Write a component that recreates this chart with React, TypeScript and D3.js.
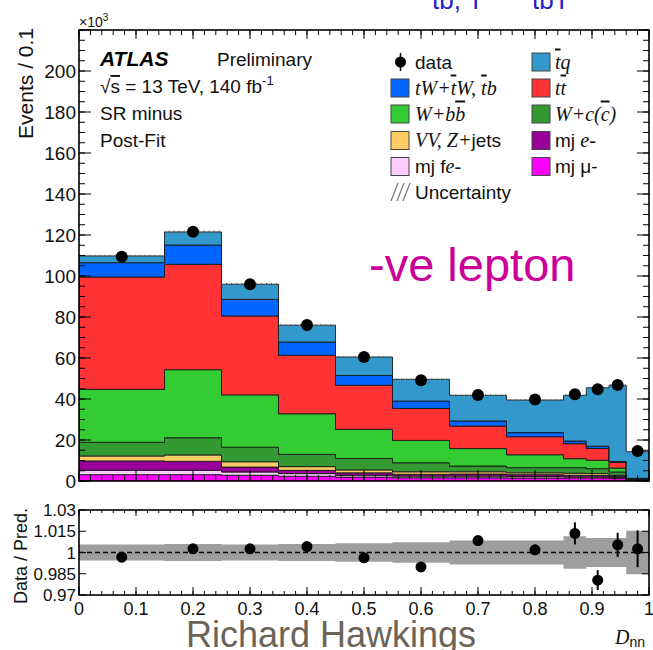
import React from 'react';
import * as d3 from 'd3';

// bin edges of D_nn
const binEdges = [0, 0.15, 0.25, 0.35, 0.45, 0.55, 0.65, 0.75, 0.85, 0.89, 0.93, 0.96, 1.0];

// post-fit yields in units of 10^3, bottom of the stack first
const mjMu = [3.1, 3.1, 2.8, 2.3, 1.9, 1.6, 1.6, 1.5, 1.5, 1.5, 1.2, 0.3];
const mjFe = [2.1, 2.1, 1.6, 1.3, 0.9, 0.8, 0.8, 0.7, 0.5, 0.5, 0.4, 0.1];
const mjE = [4.6, 4.4, 2.4, 1.6, 1.2, 0.9, 1.0, 0.9, 0.8, 0.7, 0.6, 0.3];
const vvZjets = [2.4, 3.1, 2.6, 1.8, 1.4, 1.2, 1.1, 0.9, 1.0, 0.9, 0.6, 0.1];
const wcc = [6.7, 8.4, 7.1, 6.0, 5.6, 4.4, 2.8, 2.5, 2.7, 2.4, 1.6, 0.2];
const wbb = [25.8, 33.2, 25.5, 19.8, 14.2, 10.9, 8.5, 6.3, 4.4, 4.1, 1.9, 0.2];
const ttbar = [54.8, 51.4, 38.5, 28.5, 21.5, 15.6, 11.0, 8.8, 7.3, 5.8, 2.8, 0.1];
const tWtb = [7.0, 9.4, 8.1, 6.5, 4.8, 3.6, 2.5, 2.0, 1.3, 1.1, 0.4, 0.0];
const tqBar = [3.3, 6.4, 7.4, 8.2, 9.0, 10.6, 12.5, 15.9, 22.3, 28.5, 37.2, 13.0];

const dataCounts = [109.4, 121.6, 96.0, 76.1, 60.5, 49.1, 42.0, 39.8, 42.3, 44.7, 46.8, 14.6];

// lower panel
const ratioVals = [0.9967, 1.0026, 1.0026, 1.0042, 0.9963, 0.9898, 1.0084, 1.0019, 1.0135, 0.9805, 1.0054, 1.0026];
const ratioErr = [0.002, 0.002, 0.002, 0.002, 0.002, 0.003, 0.003, 0.003, 0.0078, 0.007, 0.0085, 0.013];
const bandHalf = [0.0057, 0.006, 0.0057, 0.006, 0.0066, 0.0073, 0.0085, 0.0085, 0.0114, 0.0102, 0.0102, 0.0153];

const yTickLabels = [0, 20, 40, 60, 80, 100, 120, 140, 160, 180, 200];
const xTickLabels = [0, 0.1, 0.2, 0.3, 0.4, 0.5, 0.6, 0.7, 0.8, 0.9, 1];
const ratioTickLabels = [0.97, 0.985, 1, 1.015, 1.03];

const layers = [
  { key: 'mjMu', values: mjMu, color: '#ff00ff' },
  { key: 'mjFe', values: mjFe, color: '#ffccff' },
  { key: 'mjE', values: mjE, color: '#990099' },
  { key: 'vv', values: vvZjets, color: '#ffcc66' },
  { key: 'wcc', values: wcc, color: '#339933' },
  { key: 'wbb', values: wbb, color: '#33cc33' },
  { key: 'tt', values: ttbar, color: '#ff3333' },
  { key: 'tw', values: tWtb, color: '#0066ff' },
  { key: 'tq', values: tqBar, color: '#3399cc' },
];

const W = 653;
const H = 650;
const left = 79;
const right = 649;
const top = 30;
const bottom = 481;
const rTop = 510;
const rBottom = 595;

const sans = '"Liberation Sans", Arial, sans-serif';
const serif = '"Liberation Serif", "Times New Roman", serif';

export default function App() {
  const n = binEdges.length - 1;
  const x = d3.scaleLinear().domain([0, 1]).range([left, right]);
  const y = d3.scaleLinear().domain([0, 220]).range([bottom, top]);
  const yr = d3.scaleLinear().domain([0.97, 1.03]).range([rBottom, rTop]);

  const rows = d3.range(n).map((i) => {
    const r: Record<string, number> = {};
    layers.forEach((l) => (r[l.key] = l.values[i]));
    return r;
  });
  const stacked = d3.stack<Record<string, number>>().keys(layers.map((l) => l.key))(rows);
  const totals = rows.map((r) => d3.sum(layers, (l) => r[l.key]));

  const stepArea = (ys: (i: number) => [number, number], sy: d3.ScaleLinear<number, number>) =>
    d3
      .area<number>()
      .x((e) => x(binEdges[e]))
      .y0((e) => sy(ys(Math.min(e, n - 1))[0]))
      .y1((e) => sy(ys(Math.min(e, n - 1))[1]))
      .curve(d3.curveStepAfter)(d3.range(n + 1));

  const centers = d3.range(n).map((i) => (binEdges[i] + binEdges[i + 1]) / 2);

  const xMajor = d3.range(0, 1.0001, 0.1);
  const xMinor = d3.range(0, 1.0001, 0.02);
  const yMajor = d3.range(0, 220.01, 20);
  const yMinor = d3.range(0, 220.01, 5);

  const legendBox = (bx: number, cy: number, color: string) => (
    <rect x={bx} y={cy - 9} width={18} height={18} fill={color} stroke="#444" strokeWidth={1} />
  );
  const rowY = [62, 88, 114, 140.5, 166.5, 192];
  const c1 = 391;
  const c2 = 532;
  const ov = { textDecoration: 'overline' } as React.CSSProperties;

  return (
    <svg width={W} height={H} style={{ position: 'absolute', left: 0, top: 0 }} fontFamily={sans}>
      <defs>
        <clipPath id="mainClip">
          <rect x={left} y={top} width={right - left} height={bottom - top} />
        </clipPath>
        <pattern id="hatch" patternUnits="userSpaceOnUse" width={5} height={5}>
          <path d="M0,5 L5,0" stroke="#666" strokeWidth={1} />
        </pattern>
      </defs>
      <rect width={W} height={H} fill="#fff" />

      {/* blue text cut at the top of the slide */}
      <text x={432} y={8.5} fontSize={26} fill="#2222cc">tb, T</text>
      <text x={532} y={8.5} fontSize={26} fill="#2222cc">tbT</text>

      {/* stacked histogram */}
      <g clipPath="url(#mainClip)">
        {stacked.map((s, li) => (
          <path
            key={layers[li].key}
            d={stepArea((i) => [s[i][0], s[i][1]], y) || ''}
            fill={layers[li].color}
            stroke="#1a1a1a"
            strokeWidth={0.9}
          />
        ))}
        <path
          d={stepArea((i) => [totals[i] * (1 - bandHalf[i]), totals[i] * (1 + bandHalf[i])], y) || ''}
          fill="url(#hatch)"
          stroke="none"
        />
      </g>

      {/* data points */}
      {centers.map((c, i) => (
        <circle key={'d' + i} cx={x(c)} cy={y(dataCounts[i])} r={6} fill="#000" />
      ))}

      {/* main frame and ticks */}
      <g stroke="#000" strokeWidth={1}>
        {xMinor.map((v, i) => (
          <g key={'xm' + i}>
            <line x1={x(v)} x2={x(v)} y1={bottom} y2={bottom - 6} />
            <line x1={x(v)} x2={x(v)} y1={top} y2={top + 5} />
          </g>
        ))}
        {xMajor.map((v, i) => (
          <g key={'xM' + i}>
            <line x1={x(v)} x2={x(v)} y1={bottom} y2={bottom - 11} />
            <line x1={x(v)} x2={x(v)} y1={top} y2={top + 9} />
          </g>
        ))}
        {yMinor.map((v, i) => (
          <g key={'ym' + i}>
            <line x1={left} x2={left + 6} y1={y(v)} y2={y(v)} />
            <line x1={right} x2={right - 6} y1={y(v)} y2={y(v)} />
          </g>
        ))}
        {yMajor.map((v, i) => (
          <g key={'yM' + i}>
            <line x1={left} x2={left + 12} y1={y(v)} y2={y(v)} />
            <line x1={right} x2={right - 12} y1={y(v)} y2={y(v)} />
          </g>
        ))}
        <rect x={left} y={top} width={right - left} height={bottom - top} fill="none" strokeWidth={1.6} />
      </g>
      {yTickLabels.map((v) => (
        <text key={'yl' + v} x={76} y={y(v) + 6.5} fontSize={19} textAnchor="end" fill="#111">
          {v}
        </text>
      ))}
      <text x={79} y={27} fontSize={14} fill="#111">
        ×10<tspan fontSize={10} dy={-6}>3</tspan>
      </text>
      <text transform="translate(33,28) rotate(-90)" fontSize={21} textAnchor="end" fill="#111">
        Events / 0.1
      </text>

      {/* labels */}
      <text x={100} y={66} fontSize={21} fontWeight="bold" fontStyle="italic" fill="#000">ATLAS</text>
      <text x={217} y={66} fontSize={19} fill="#111">Preliminary</text>
      <text x={100} y={93} fontSize={19} fill="#111">
        √<tspan style={ov}>s</tspan> = 13 TeV, 140 fb<tspan fontSize={13} dy={-8}>-1</tspan>
      </text>
      <text x={100} y={120} fontSize={19} fill="#111">SR minus</text>
      <text x={100} y={147} fontSize={19} fill="#111">Post-Fit</text>
      <text x={369} y={281} fontSize={47} fill="#cc0099">-ve lepton</text>

      {/* legend */}
      <line x1={c1 + 9.5} x2={c1 + 9.5} y1={rowY[0] - 9} y2={rowY[0] + 9} stroke="#000" strokeWidth={1.5} />
      <circle cx={c1 + 9.5} cy={rowY[0]} r={5.5} fill="#000" />
      <text x={415} y={rowY[0] + 6.5} fontSize={19} fill="#111">data</text>
      {legendBox(c1, rowY[1], '#0066ff')}
      <text x={415} y={rowY[1] + 6.5} fontSize={20} fontFamily={serif} fontStyle="italic" fill="#111">
        tW+<tspan style={ov}>t</tspan>W, <tspan style={ov}>t</tspan>b
      </text>
      {legendBox(c1, rowY[2], '#33cc33')}
      <text x={415} y={rowY[2] + 6.5} fontSize={20} fontFamily={serif} fontStyle="italic" fill="#111">
        W+b<tspan style={ov}>b</tspan>{'\u2009'}
      </text>
      {legendBox(c1, rowY[3], '#ffcc66')}
      <text x={415} y={rowY[3] + 6.5} fontSize={20} fontFamily={serif} fontStyle="italic" fill="#111">
        VV, Z+<tspan fontFamily={sans} fontStyle="normal" fontSize={19}>jets</tspan>
      </text>
      {legendBox(c1, rowY[4], '#ffccff')}
      <text x={415} y={rowY[4] + 6.5} fontSize={19} fill="#111">
        mj f<tspan fontFamily={serif} fontStyle="italic" fontSize={20}>e-</tspan>
      </text>
      <g stroke="#777" strokeWidth={1.2}>
        {[0, 6, 12].map((d) => (
          <line key={'h' + d} x1={c1 + d} y1={rowY[5] + 9} x2={c1 + d + 7} y2={rowY[5] - 9} />
        ))}
      </g>
      <text x={415} y={rowY[5] + 6.5} fontSize={19} fill="#111">Uncertainty</text>

      {legendBox(c2, rowY[0], '#3399cc')}
      <text x={555} y={rowY[0] + 6.5} fontSize={20} fontFamily={serif} fontStyle="italic" fill="#111">
        <tspan style={ov}>t</tspan>q
      </text>
      {legendBox(c2, rowY[1], '#ff3333')}
      <text x={555} y={rowY[1] + 6.5} fontSize={20} fontFamily={serif} fontStyle="italic" fill="#111">
        <tspan>t</tspan>
        <tspan style={ov}>t</tspan>
        {'\u2009'}
      </text>
      {legendBox(c2, rowY[2], '#339933')}
      <text x={555} y={rowY[2] + 6.5} fontSize={20} fontFamily={serif} fontStyle="italic" fill="#111">
        W+c(<tspan style={ov}>c</tspan>)
      </text>
      {legendBox(c2, rowY[3], '#990099')}
      <text x={555} y={rowY[3] + 6.5} fontSize={19} fill="#111">
        mj <tspan fontFamily={serif} fontStyle="italic" fontSize={20}>e-</tspan>
      </text>
      {legendBox(c2, rowY[4], '#ff00ff')}
      <text x={555} y={rowY[4] + 6.5} fontSize={19} fill="#111">mj μ-</text>

      {/* ratio panel */}
      <path
        d={stepArea((i) => [1 - bandHalf[i], 1 + bandHalf[i]], yr) || ''}
        fill="#9e9e9e"
        stroke="none"
      />
      <line x1={left} x2={right} y1={yr(1)} y2={yr(1)} stroke="#000" strokeWidth={1.4} strokeDasharray="5,3" />
      {centers.map((c, i) => (
        <g key={'r' + i}>
          <line
            x1={x(c)}
            x2={x(c)}
            y1={yr(ratioVals[i] - ratioErr[i])}
            y2={yr(ratioVals[i] + ratioErr[i])}
            stroke="#000"
            strokeWidth={2}
          />
          <circle cx={x(c)} cy={yr(ratioVals[i])} r={5.5} fill="#000" />
        </g>
      ))}
      <g stroke="#000" strokeWidth={1}>
        {xMinor.map((v, i) => (
          <g key={'rxm' + i}>
            <line x1={x(v)} x2={x(v)} y1={rBottom} y2={rBottom - 4} />
            <line x1={x(v)} x2={x(v)} y1={rTop} y2={rTop + 3} />
          </g>
        ))}
        {xMajor.map((v, i) => (
          <g key={'rxM' + i}>
            <line x1={x(v)} x2={x(v)} y1={rBottom} y2={rBottom - 8} />
            <line x1={x(v)} x2={x(v)} y1={rTop} y2={rTop + 6} />
          </g>
        ))}
        {ratioTickLabels.map((v, i) => (
          <g key={'ry' + i}>
            <line x1={left} x2={left + 7} y1={yr(v)} y2={yr(v)} />
            <line x1={right} x2={right - 7} y1={yr(v)} y2={yr(v)} />
          </g>
        ))}
        <rect x={left} y={rTop} width={right - left} height={rBottom - rTop} fill="none" strokeWidth={1.6} />
      </g>
      {ratioTickLabels.map((v) => (
        <text key={'rl' + v} x={76} y={yr(v) + 6} fontSize={17} textAnchor="end" fill="#111">
          {v}
        </text>
      ))}
      <text transform="translate(27,508) rotate(-90)" fontSize={18} textAnchor="end" fill="#111">
        Data / Pred.
      </text>
      {xTickLabels.map((v) => (
        <text key={'xl' + v} x={x(v)} y={615} fontSize={18} textAnchor="middle" fill="#111">
          {v}
        </text>
      ))}

      <text x={186} y={647} fontSize={36} fill="#6b6357">Richard Hawkings</text>
      <text x={615} y={644} fontSize={20} fontFamily={serif} fontStyle="italic" fill="#111">
        D<tspan fontFamily={sans} fontStyle="normal" fontSize={14} dy={3}>nn</tspan>
      </text>
    </svg>
  );
}
